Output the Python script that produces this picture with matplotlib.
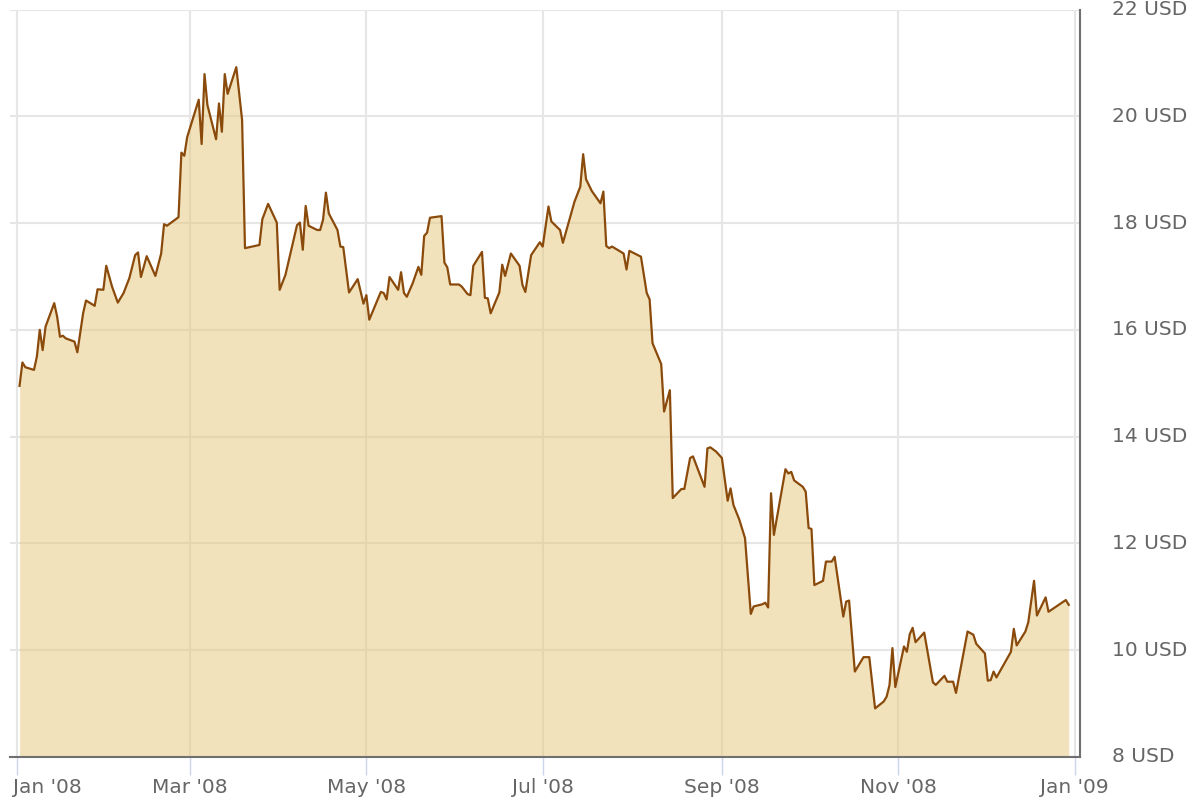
import matplotlib
matplotlib.use("Agg")
import matplotlib.pyplot as plt
import matplotlib.dates as mdates
import matplotlib.transforms as mtransforms
import numpy as np
import pandas as pd

dates = [
    "2008-01-02", "2008-01-03", "2008-01-04", "2008-01-07", "2008-01-08", "2008-01-09",
    "2008-01-10", "2008-01-11", "2008-01-14", "2008-01-15", "2008-01-16", "2008-01-17",
    "2008-01-18", "2008-01-21", "2008-01-22", "2008-01-24", "2008-01-25", "2008-01-28",
    "2008-01-29", "2008-01-31", "2008-02-01", "2008-02-03", "2008-02-05", "2008-02-07",
    "2008-02-09", "2008-02-11", "2008-02-12", "2008-02-13", "2008-02-15", "2008-02-18",
    "2008-02-20", "2008-02-21", "2008-02-22", "2008-02-26", "2008-02-27", "2008-02-28",
    "2008-02-29", "2008-03-04", "2008-03-05", "2008-03-06", "2008-03-07", "2008-03-10",
    "2008-03-11", "2008-03-12", "2008-03-13", "2008-03-14", "2008-03-17", "2008-03-19",
    "2008-03-20", "2008-03-25", "2008-03-26", "2008-03-28", "2008-03-31", "2008-04-01",
    "2008-04-03", "2008-04-07", "2008-04-08", "2008-04-09", "2008-04-10", "2008-04-11",
    "2008-04-14", "2008-04-15", "2008-04-16", "2008-04-17", "2008-04-18", "2008-04-21",
    "2008-04-22", "2008-04-23", "2008-04-25", "2008-04-28", "2008-04-30", "2008-05-01",
    "2008-05-02", "2008-05-06", "2008-05-07", "2008-05-08", "2008-05-09", "2008-05-12",
    "2008-05-13", "2008-05-14", "2008-05-15", "2008-05-17", "2008-05-19", "2008-05-20",
    "2008-05-21", "2008-05-22", "2008-05-23", "2008-05-27", "2008-05-28", "2008-05-29",
    "2008-05-30", "2008-06-02", "2008-06-03", "2008-06-05", "2008-06-06", "2008-06-07",
    "2008-06-10", "2008-06-11", "2008-06-12", "2008-06-13", "2008-06-16", "2008-06-17",
    "2008-06-18", "2008-06-20", "2008-06-23", "2008-06-24", "2008-06-25", "2008-06-27",
    "2008-06-30", "2008-07-01", "2008-07-03", "2008-07-04", "2008-07-07", "2008-07-08",
    "2008-07-11", "2008-07-12", "2008-07-14", "2008-07-15", "2008-07-16", "2008-07-18",
    "2008-07-21", "2008-07-22", "2008-07-23", "2008-07-24", "2008-07-25", "2008-07-29",
    "2008-07-30", "2008-07-31", "2008-08-04", "2008-08-06", "2008-08-07", "2008-08-08",
    "2008-08-11", "2008-08-12", "2008-08-14", "2008-08-15", "2008-08-18", "2008-08-19",
    "2008-08-21", "2008-08-22", "2008-08-26", "2008-08-27", "2008-08-28", "2008-08-30",
    "2008-09-01", "2008-09-03", "2008-09-04", "2008-09-05", "2008-09-07", "2008-09-09",
    "2008-09-11", "2008-09-12", "2008-09-15", "2008-09-16", "2008-09-17", "2008-09-18",
    "2008-09-19", "2008-09-23", "2008-09-24", "2008-09-25", "2008-09-26", "2008-09-29",
    "2008-09-30", "2008-10-01", "2008-10-02", "2008-10-03", "2008-10-06", "2008-10-07",
    "2008-10-09", "2008-10-10", "2008-10-13", "2008-10-14", "2008-10-15", "2008-10-17",
    "2008-10-20", "2008-10-22", "2008-10-24", "2008-10-27", "2008-10-28", "2008-10-29",
    "2008-10-30", "2008-10-31", "2008-11-03", "2008-11-04", "2008-11-05", "2008-11-06",
    "2008-11-07", "2008-11-10", "2008-11-13", "2008-11-14", "2008-11-17", "2008-11-18",
    "2008-11-20", "2008-11-21", "2008-11-25", "2008-11-27", "2008-11-28", "2008-12-01",
    "2008-12-02", "2008-12-03", "2008-12-04", "2008-12-05", "2008-12-10", "2008-12-11",
    "2008-12-12", "2008-12-15", "2008-12-16", "2008-12-17", "2008-12-18", "2008-12-19",
    "2008-12-22", "2008-12-23", "2008-12-29", "2008-12-30",
]

prices = [
    14.95, 15.39, 15.30, 15.25, 15.50, 16.00,
    15.62, 16.06, 16.50, 16.25, 15.87, 15.89,
    15.84, 15.78, 15.58, 16.31, 16.55, 16.45,
    16.76, 16.75, 17.20, 16.81, 16.51, 16.69,
    16.97, 17.40, 17.45, 16.99, 17.38, 17.01,
    17.43, 17.98, 17.95, 18.11, 19.32, 19.26,
    19.61, 20.31, 19.48, 20.79, 20.21, 19.57,
    20.24, 19.71, 20.79, 20.42, 20.92, 19.93,
    17.53, 17.59, 18.07, 18.36, 18.01, 16.75,
    17.03, 17.96, 18.01, 17.50, 18.32, 17.95,
    17.87, 17.87, 18.06, 18.57, 18.18, 17.87,
    17.56, 17.55, 16.70, 16.95, 16.49, 16.65,
    16.19, 16.71, 16.69, 16.57, 16.99, 16.75,
    17.08, 16.69, 16.62, 16.87, 17.18, 17.03,
    17.76, 17.82, 18.10, 18.13, 17.26, 17.17,
    16.85, 16.85, 16.81, 16.67, 16.65, 17.20,
    17.46, 16.60, 16.59, 16.31, 16.70, 17.22,
    17.01, 17.43, 17.20, 16.84, 16.71, 17.40,
    17.64, 17.56, 18.31, 18.03, 17.87, 17.63,
    18.21, 18.40, 18.68, 19.29, 18.82, 18.60,
    18.37, 18.59, 17.57, 17.53, 17.56, 17.43,
    17.13, 17.48, 17.37, 16.69, 16.57, 15.75,
    15.36, 14.47, 14.87, 12.85, 13.02, 13.02,
    13.60, 13.63, 13.06, 13.78, 13.80, 13.72,
    13.60, 12.80, 13.03, 12.72, 12.45, 12.10,
    10.68, 10.82, 10.86, 10.89, 10.80, 12.94,
    12.16, 13.39, 13.31, 13.34, 13.18, 13.06,
    12.97, 12.29, 12.27, 11.22, 11.30, 11.66,
    11.66, 11.75, 10.63, 10.91, 10.93, 9.60,
    9.87, 9.87, 8.91, 9.04, 9.13, 9.35,
    10.04, 9.31, 10.07, 9.97, 10.30, 10.42,
    10.15, 10.33, 9.40, 9.35, 9.52, 9.41,
    9.41, 9.20, 10.35, 10.29, 10.12, 9.94,
    9.43, 9.44, 9.60, 9.49, 9.97, 10.40,
    10.09, 10.35, 10.52, 10.91, 11.30, 10.65,
    10.99, 10.72, 10.94, 10.85,
]

tick_dates = ["2008-01-01", "2008-03-01", "2008-05-01", "2008-07-01",
              "2008-09-01", "2008-11-01", "2009-01-01"]
tick_labels = ["Jan '08", "Mar '08", "May '08", "Jul '08", "Sep '08", "Nov '08", "Jan '09"]
y_ticks = [8, 10, 12, 14, 16, 18, 20, 22]
y_labels = [f"{v} USD" for v in y_ticks]

x = pd.to_datetime(dates)
xt = pd.to_datetime(tick_dates)

W, H = 1200, 800
fig = plt.figure(figsize=(12, 8), dpi=100)
left_px, right_px, top_px, bottom_px = 10, 1080, 9.5, 757
ax = fig.add_axes([left_px / W, 1 - bottom_px / H,
                   (right_px - left_px) / W, (bottom_px - top_px) / H])

grid_c = "#e6e6e6"
text_c = "#666666"
line_c = "#8a4a0b"
fill_c = "#e7c779"

ax.fill_between(x, prices, 8, color=fill_c, alpha=0.5, linewidth=0, zorder=2)
ax.plot(x, prices, color=line_c, linewidth=1.6, zorder=3)

x0 = pd.Timestamp("2008-01-01")
ax.set_xlim(x0 - pd.Timedelta(days=2.3), x0 + pd.Timedelta(days=367.9))
ax.set_ylim(8, 22)

ax.set_xticks(xt)
ax.set_xticklabels(tick_labels)
ax.set_yticks(y_ticks)
ax.set_yticklabels(y_labels)

ax.yaxis.tick_right()
ax.grid(True, color=grid_c, linewidth=1.5, zorder=0)
ax.set_axisbelow(True)

for s in ["left", "top"]:
    ax.spines[s].set_visible(False)
ax.spines["bottom"].set_color("#707070")
ax.spines["bottom"].set_linewidth(1.5)
ax.spines["right"].set_color("#707070")
ax.spines["right"].set_linewidth(1.5)

ax.tick_params(axis="x", length=13, width=1, color="#ccd6eb", pad=2,
               labelsize=14.5, labelcolor=text_c)
ax.tick_params(axis="y", length=0, pad=23, labelsize=14.5, labelcolor=text_c)
for lab in ax.get_yticklabels():
    lab.set_verticalalignment("center")

# first label kept inside the chart like the reference
first = ax.get_xticklabels()[0]
first.set_horizontalalignment("left")
first.set_transform(first.get_transform() +
                    mtransforms.ScaledTranslation(-4 / 100, 0, fig.dpi_scale_trans))

fig.savefig("out.png", dpi=100, facecolor="white")
